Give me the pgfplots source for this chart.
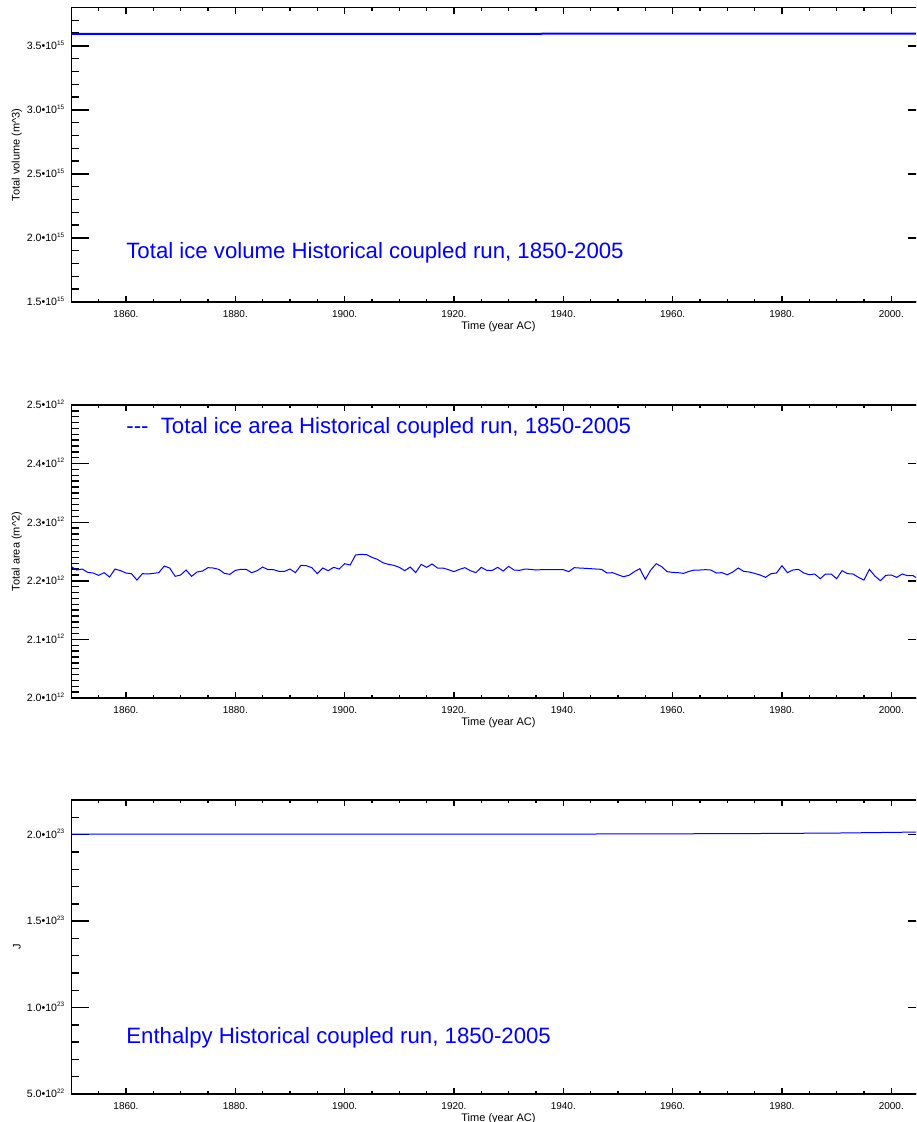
\documentclass[border=0pt]{standalone}
\usepackage{fontspec}
\setmainfont{Liberation Sans}
\usepackage{pgfplots}
\pgfplotsset{compat=1.18}
\usepackage{pgfplotstable}

\newcommand\sci[2]{#1\textbullet10\raisebox{2.3pt}{\fontsize{3.2}{3.2}\selectfont #2}}

% total ice volume, 1e15 m^3
\pgfplotstableread{
year vol
1850 3.5938
1870 3.5940
1890 3.5945
1910 3.5950
1930 3.5955
1950 3.5960
1970 3.5963
1990 3.5966
2005 3.5969
}\voldata

% total ice area, 1e12 m^2
\pgfplotstableread{
year area
1850 2.2241
1851 2.2184
1852 2.2201
1853 2.2144
1854 2.2133
1855 2.2093
1856 2.2139
1857 2.2065
1858 2.2201
1859 2.2173
1860 2.2133
1861 2.2122
1862 2.2013
1863 2.2122
1864 2.2116
1865 2.2127
1866 2.2139
1867 2.2252
1868 2.2218
1869 2.2076
1870 2.2099
1871 2.2184
1872 2.2076
1873 2.2150
1874 2.2167
1875 2.2224
1876 2.2218
1877 2.2195
1878 2.2127
1879 2.2110
1880 2.2178
1881 2.2195
1882 2.2195
1883 2.2139
1884 2.2173
1885 2.2235
1886 2.2190
1887 2.2190
1888 2.2161
1889 2.2161
1890 2.2201
1891 2.2139
1892 2.2264
1893 2.2258
1894 2.2224
1895 2.2122
1896 2.2218
1897 2.2173
1898 2.2230
1899 2.2201
1900 2.2292
1901 2.2269
1902 2.2440
1903 2.2452
1904 2.2446
1905 2.2400
1906 2.2366
1907 2.2309
1908 2.2281
1909 2.2264
1910 2.2230
1911 2.2173
1912 2.2235
1913 2.2139
1914 2.2281
1915 2.2230
1916 2.2287
1917 2.2218
1918 2.2218
1919 2.2190
1920 2.2156
1921 2.2195
1922 2.2224
1923 2.2173
1924 2.2139
1925 2.2230
1926 2.2178
1927 2.2178
1928 2.2230
1929 2.2167
1930 2.2247
1931 2.2184
1932 2.2178
1933 2.2201
1934 2.2195
1935 2.2184
1936 2.2190
1937 2.2190
1938 2.2190
1939 2.2190
1940 2.2190
1941 2.2156
1942 2.2224
1943 2.2218
1944 2.2213
1945 2.2207
1946 2.2201
1947 2.2195
1948 2.2133
1949 2.2139
1950 2.2104
1951 2.2070
1952 2.2093
1953 2.2156
1954 2.2207
1955 2.2025
1956 2.2184
1957 2.2292
1958 2.2241
1959 2.2156
1960 2.2144
1961 2.2139
1962 2.2127
1963 2.2161
1964 2.2184
1965 2.2184
1966 2.2190
1967 2.2184
1968 2.2133
1969 2.2139
1970 2.2104
1971 2.2150
1972 2.2218
1973 2.2161
1974 2.2150
1975 2.2127
1976 2.2099
1977 2.2059
1978 2.2122
1979 2.2133
1980 2.2258
1981 2.2139
1982 2.2184
1983 2.2195
1984 2.2133
1985 2.2104
1986 2.2116
1987 2.2036
1988 2.2116
1989 2.2116
1990 2.2036
1991 2.2173
1992 2.2122
1993 2.2116
1994 2.2059
1995 2.2013
1996 2.2195
1997 2.2082
1998 2.2002
1999 2.2093
2000 2.2099
2001 2.2059
2002 2.2116
2003 2.2087
2004 2.2087
2005 2.2030
}\areadata

% enthalpy, 1e23 J
\pgfplotstableread{
year enth
1850 2.0040
1870 2.0040
1890 2.0038
1910 2.0040
1930 2.0042
1946 2.0045
1960 2.0055
1977 2.0075
1990 2.0100
2005 2.0158
}\enthdata

\pgfplotsset{
  idl/.style={
    scale only axis, anchor=south west, width=427.2pt,
    xmin=1850, xmax=2006.3,
    scaled y ticks=false, scaled x ticks=false,
    axis line style={line width=0.8pt, black},
    tick style={line width=0.7pt, black},
    tick align=inside, tick pos=both,
    major tick length=8.9pt, minor tick length=3.9pt,
    xtick style={/pgfplots/major tick length=3pt, /pgfplots/minor tick length=1.5pt},
    xtick={1860,1880,1900,1920,1940,1960,1980,2000},
    xticklabels={1860.,1880.,1900.,1920.,1940.,1960.,1980.,2000.},
    minor xtick={1850,1855,...,2005},
    xticklabel style={font=\fontsize{5}{6}\selectfont, yshift=-0.6pt},
    yticklabel style={font=\fontsize{5.3}{6}\selectfont, anchor=base east, yshift=-1.9pt},
    xlabel={Time (year AC)},
    xlabel style={font=\fontsize{5.5}{6.6}\selectfont, at={(axis description cs:0.5,0)}, anchor=north, yshift=-6.3pt},
    ylabel style={font=\fontsize{5.5}{6.6}\selectfont, at={(axis description cs:0,0.5)}, anchor=center, yshift=27.2pt},
    clip=true,
  },
}
\tikzset{note/.style={anchor=base west, inner sep=0pt, text=blue, font=\fontsize{11.1}{13}\selectfont}}

\begin{document}
\begin{tikzpicture}
\useasboundingbox (0,0) rectangle (458pt,-561pt);
\clip (0,0) rectangle (458pt,-561pt);

\begin{axis}[idl,
  at={(35.65pt,-151pt)}, height=147.2pt,
  ymin=1.5e15, ymax=3.8e15,
  ytick={1.5e15,2.0e15,2.5e15,3.0e15,3.5e15},
  yticklabels={\sci{1.5}{15},\sci{2.0}{15},\sci{2.5}{15},\sci{3.0}{15},\sci{3.5}{15}},
  minor ytick={1.6e15,1.7e15,1.8e15,1.9e15,2.1e15,2.2e15,2.3e15,2.4e15,2.6e15,2.7e15,2.8e15,2.9e15,3.1e15,3.2e15,3.3e15,3.4e15,3.6e15,3.7e15},
  ylabel={Total volume (m\textasciicircum3)},
]
\addplot[blue, line width=1pt] table[x=year, y expr=\thisrow{vol}*1e15] {\voldata};
\node[note] at (axis cs:1860,1.841e15) {Total ice volume Historical coupled run, 1850-2005};
\end{axis}

\begin{axis}[idl,
  at={(35.65pt,-349pt)}, height=146.5pt,
  ymin=2.0e12, ymax=2.5e12,
  ytick={2.0e12,2.1e12,2.2e12,2.3e12,2.4e12,2.5e12},
  yticklabels={\sci{2.0}{12},\sci{2.1}{12},\sci{2.2}{12},\sci{2.3}{12},\sci{2.4}{12},\sci{2.5}{12}},
  minor y tick num=9,
  ylabel={Total area (m\textasciicircum2)},
]
\addplot[blue, line width=0.5pt] table[x=year, y expr=\thisrow{area}*1e12] {\areadata};
\node[note] at (axis cs:1860,2.4517e12) {-{}-{}-\ \ Total ice area Historical coupled run, 1850-2005};
\end{axis}

\begin{axis}[idl,
  at={(35.65pt,-547pt)}, height=146.9pt,
  ymin=0.5e23, ymax=2.2e23,
  ytick={0.5e23,1.0e23,1.5e23,2.0e23},
  yticklabels={\sci{5.0}{22},\sci{1.0}{23},\sci{1.5}{23},\sci{2.0}{23}},
  minor ytick={0.6e23,0.7e23,0.8e23,0.9e23,1.1e23,1.2e23,1.3e23,1.4e23,1.6e23,1.7e23,1.8e23,1.9e23,2.1e23},
  ylabel={J},
]
\addplot[blue, line width=0.5pt] table[x=year, y expr=\thisrow{enth}*1e23] {\enthdata};
\node[note] at (axis cs:1860,0.7914e23) {Enthalpy Historical coupled run, 1850-2005};
\end{axis}
\end{tikzpicture}
\end{document}
